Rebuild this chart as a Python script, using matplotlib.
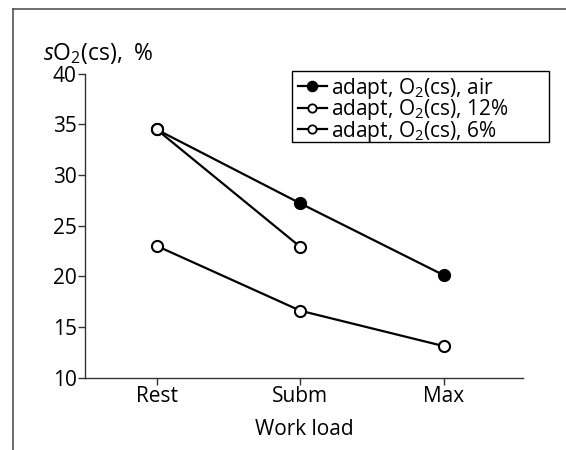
import matplotlib
matplotlib.use("Agg")
import matplotlib.pyplot as plt
from matplotlib.lines import Line2D
from matplotlib.patches import Rectangle

plt.rcParams['font.family'] = ['Open Sans', 'DejaVu Sans']
plt.rcParams['mathtext.fontset'] = 'custom'
plt.rcParams['mathtext.rm'] = 'Open Sans'
plt.rcParams['mathtext.it'] = 'Open Sans:italic'

# data
loads = ['Rest', 'Subm', 'Max']
air = [34.5, 27.2, 20.1]
o2_12 = [34.5, 22.9]
o2_6 = [23.0, 16.6, 13.1]
labels = ['adapt, O$_2$(cs), air', 'adapt, O$_2$(cs), 12%', 'adapt, O$_2$(cs), 6%']

fig = plt.figure(figsize=(5.66, 4.5), dpi=100)
ax = fig.add_axes([0.150, 0.161, 0.774, 0.675])

x = list(range(len(loads)))
kw = dict(color='black', lw=1.6, ms=8, mew=1.5, clip_on=False)
ax.plot(x, air, marker='o', mfc='black', label=labels[0], **kw)
ax.plot(x[:len(o2_12)], o2_12, marker='o', mfc='white', label=labels[1], **kw)
ax.plot(x, o2_6, marker='o', mfc='white', label=labels[2], **kw)

ax.set_xlim(-0.5, 2.55)
ax.set_ylim(10, 40)
ax.set_yticks([10, 15, 20, 25, 30, 35, 40])
ax.set_xticks(x)
ax.set_xticklabels(loads)
for s in ['top', 'right']:
    ax.spines[s].set_visible(False)
for s in ['left', 'bottom']:
    ax.spines[s].set_color('#333333')
    ax.spines[s].set_linewidth(1.0)
ax.tick_params(direction='out', length=5, width=1, color='#333333',
               labelsize=15, pad=1)
ax.set_xlabel('Work load', fontsize=15, labelpad=9)

fig.text(0.076, 0.880, '$s$O$_2$(cs),  %', fontsize=16.5, ha='left', va='center')

# legend: no frame from matplotlib, box drawn separately (wider than text)
handles = [Line2D([], [], color='black', lw=1.6, marker='o', ms=m, mew=1.3, mfc=c)
           for c, m in [('black', 7), ('white', 6), ('white', 6)]]
leg = fig.legend(handles, labels, loc='upper left', bbox_to_anchor=(0.526, 0.832),
                 fontsize=15, handlelength=1.4, handletextpad=0.2,
                 labelspacing=-0.17, borderpad=0, frameon=False,
                 borderaxespad=0)
fig.add_artist(Rectangle((292/566, 1 - 142/450), 257/566, 71/450,
                         transform=fig.transFigure, fill=False,
                         edgecolor='black', lw=1.0))

# outer frame (top and left edges)
fig.add_artist(Line2D([13/566, 1], [1 - 9/450, 1 - 9/450], color='#555555', lw=1.2))
fig.add_artist(Line2D([13/566, 13/566], [0, 1 - 9/450], color='#555555', lw=1.2))

fig.savefig('out.png', dpi=100)
